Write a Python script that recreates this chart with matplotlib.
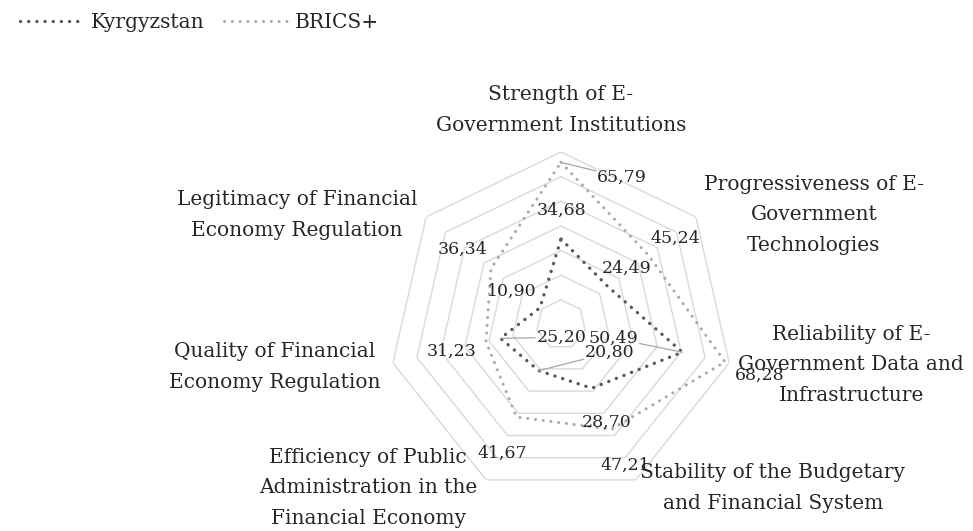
import numpy as np
import matplotlib
matplotlib.use("Agg")
import matplotlib.pyplot as plt

plt.rcParams["font.family"] = ["DejaVu Serif"]

categories = [
    "Strength of E-\nGovernment Institutions",
    "Progressiveness of E-\nGovernment\nTechnologies",
    "Reliability of E-\nGovernment Data and\nInfrastructure",
    "Stability of the Budgetary\nand Financial System",
    "Efficiency of Public\nAdministration in the\nFinancial Economy",
    "Quality of Financial\nEconomy Regulation",
    "Legitimacy of Financial\nEconomy Regulation",
]
kyrgyzstan = [34.68, 24.49, 50.49, 28.70, 20.80, 25.20, 10.90]
brics = [65.79, 45.24, 68.28, 47.21, 41.67, 31.23, 36.34]
ring_levels = [10, 20, 30, 40, 50, 60, 70]

# label offsets (pixels, x right / y up) relative to their point
cat_off = [(0, 42), (118, 2), (122, -2), (137, -8), (-118, -8), (-118, -4), (-129, 2)]
kg_off = [(0, 29), (19, 19), (-69, 14), (15, -34), (71, 18), (61, 1), (-28, 16)]
br_off = [(61, -15), (27, 17), (35, -13), (14, -36), (-14, -36), (-34, -10), (-28, 19)]
kg_leader = [False, False, True, False, True, True, False]
br_leader = [True, False, False, False, False, False, False]

n = len(categories)
theta = np.arange(n) * 2 * np.pi / n
theta_c = np.append(theta, theta[0])

W, H = 973, 531
fig = plt.figure(figsize=(W / 100, H / 100), dpi=100)
cx, cy, R = 561, 324.5, 172.5
ax = fig.add_axes([(cx - R) / W, (H - cy - R) / H, 2 * R / W, 2 * R / H],
                  projection="polar")
ax.set_theta_zero_location("N")
ax.set_theta_direction(-1)
ax.set_ylim(0, 70)
ax.set_xticks([])
ax.set_yticks([])
ax.grid(False)
ax.spines["polar"].set_visible(False)
ax.patch.set_alpha(0)

for lv in ring_levels:
    ax.plot(theta_c, [lv] * (n + 1), color="#d9d9d9", lw=1.0, zorder=1)

kg_color = "#595959"
br_color = "#ababab"
ln1, = ax.plot(theta_c, kyrgyzstan + kyrgyzstan[:1], color=kg_color, lw=2.4,
               linestyle=(0, (0.05, 2.4)), dash_capstyle="round", zorder=3,
               label="Kyrgyzstan")
ln2, = ax.plot(theta_c, brics + brics[:1], color=br_color, lw=2.2,
               linestyle=(0, (0.05, 2.5)), dash_capstyle="round", zorder=2,
               label="BRICS+")

px = 0.72  # pixels -> points
txt_color = "#262626"


def put_labels(vals, offs, leaders):
    for t, v, (dx, dy), lead in zip(theta, vals, offs, leaders):
        ap = None
        if lead:
            ap = dict(arrowstyle="-", color="#a6a6a6", lw=0.9, shrinkA=1, shrinkB=0)
        ax.annotate(f"{v:.2f}".replace(".", ","), xy=(t, v),
                    xytext=(dx * px, dy * px), textcoords="offset points",
                    ha="center", va="center", fontsize=12.5, color=txt_color,
                    bbox=dict(boxstyle="square,pad=0", fc="none", ec="none"),
                    arrowprops=ap, zorder=5, annotation_clip=False)


put_labels(kyrgyzstan, kg_off, kg_leader)
put_labels(brics, br_off, br_leader)

for t, lab, (dx, dy) in zip(theta, categories, cat_off):
    ax.annotate(lab, xy=(t, 70), xytext=(dx * px, dy * px),
                textcoords="offset points", ha="center", va="center",
                multialignment="center", fontsize=14.5, color=txt_color,
                linespacing=1.75, annotation_clip=False)

fig.legend(handles=[ln1, ln2], loc="center left",
           bbox_to_anchor=(10 / W, 1 - 23 / H), ncol=2, frameon=False,
           fontsize=14.5, handlelength=3.2, handletextpad=0.3,
           columnspacing=1.0, borderpad=0, labelcolor=txt_color)

fig.savefig("out.png", dpi=100)
